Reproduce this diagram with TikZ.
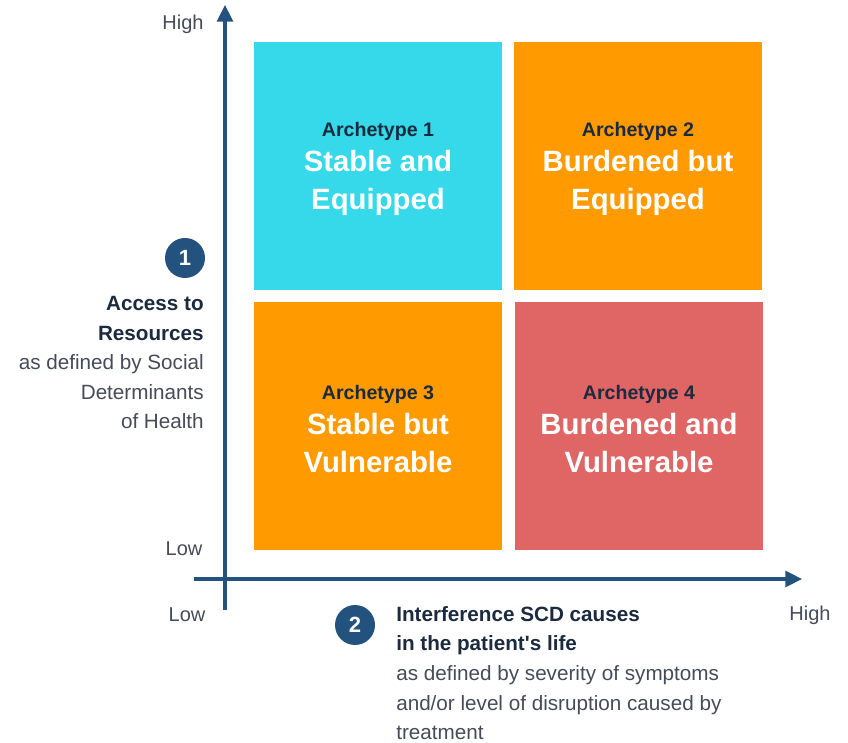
\documentclass[tikz,border=0pt]{standalone}
\usepackage{fontspec}
\setmainfont{Liberation Sans}
\definecolor{axiscolor}{HTML}{24527E}
\definecolor{stablecolor}{HTML}{35D9EA}
\definecolor{burdencolor}{HTML}{FF9A00}
\definecolor{vulncolor}{HTML}{E06666}
\definecolor{darktext}{HTML}{1B2A3E}
\definecolor{greytext}{HTML}{454C58}
\newcommand{\archname}[1]{{\fontsize{14.7}{20}\selectfont\color{darktext}\rule{0pt}{15.2pt}#1}}
\usetikzlibrary{arrows.meta}

\begin{document}
\begin{tikzpicture}[x=0.75pt, y=0.75pt]

    \tikzset{%
        quad/.style={minimum width=186pt, minimum height=186pt, inner sep=0pt,
                align=center, text=white,
                font=\fontsize{22}{28.5}\selectfont\bfseries},
        axis/.style={axiscolor, line width=2.3pt},
        tip/.style={-{Triangle[length=12.5pt, width=12pt]}},
        badge/.style={circle, fill=axiscolor, minimum size=30pt, inner sep=0pt,
                text=white, font=\fontsize{16.5}{20}\selectfont\bfseries},
        level/.style={text=greytext, font=\fontsize{15}{20}\selectfont},
        axislabel/.style={inner sep=0pt, text=greytext,
                font=\fontsize{15.5}{22.2}\selectfont},
    }

    \useasboundingbox (0, 0) rectangle (848, 742);

    % quadrants
    \node [quad, fill=stablecolor] (arch1) at (378, 576) {%
        \archname{Archetype 1}\\[-2pt]Stable and\\Equipped};
    \node [quad, fill=burdencolor] (arch2) at (638, 576) {%
        \archname{Archetype 2}\\[-2pt]Burdened but\\Equipped};
    \node [quad, fill=burdencolor] (arch3) at (378, 316) {%
        \archname{Archetype 3}\\[-2pt]Stable but\\Vulnerable};
    \node [quad, fill=vulncolor] (arch4) at (639, 316) {%
        \archname{Archetype 4}\\[-2pt]Burdened and\\Vulnerable};

    % axes
    \coordinate (ybot) at (225, 132);
    \coordinate (ytop) at (225, 737);
    \coordinate (xleft) at (194, 163);
    \coordinate (xright) at (802, 163);
    \draw [axis, tip] (ybot) -- (ytop);
    \draw [axis, tip] (xleft) -- (xright);

    \node [level] (yhigh) at (183, 718) {High};
    \node [level] (ylow) at (184, 193) {Low};
    \node [level] (xlow) at (187, 127) {Low};
    \node [level] (xhigh) at (810, 127) {High};

    % axis titles
    \node [badge] (one) at (185, 484) {1};
    \node [axislabel, anchor=north east, align=right] (ytitle) at (204, 446) {%
        \textcolor{darktext}{\bfseries Access to}\\
        \textcolor{darktext}{\bfseries Resources}\\
        as defined by Social\\Determinants\\of Health};

    \node [badge] (two) at (355, 117) {2};
    \node [axislabel, anchor=north west, align=left] (xtitle) at (396, 136) {%
        \textcolor{darktext}{\bfseries Interference SCD causes}\\
        \textcolor{darktext}{\bfseries in the patient\textquotesingle s life}\\
        as defined by severity of symptoms\\
        and/or level of disruption caused by\\treatment};

\end{tikzpicture}
\end{document}
